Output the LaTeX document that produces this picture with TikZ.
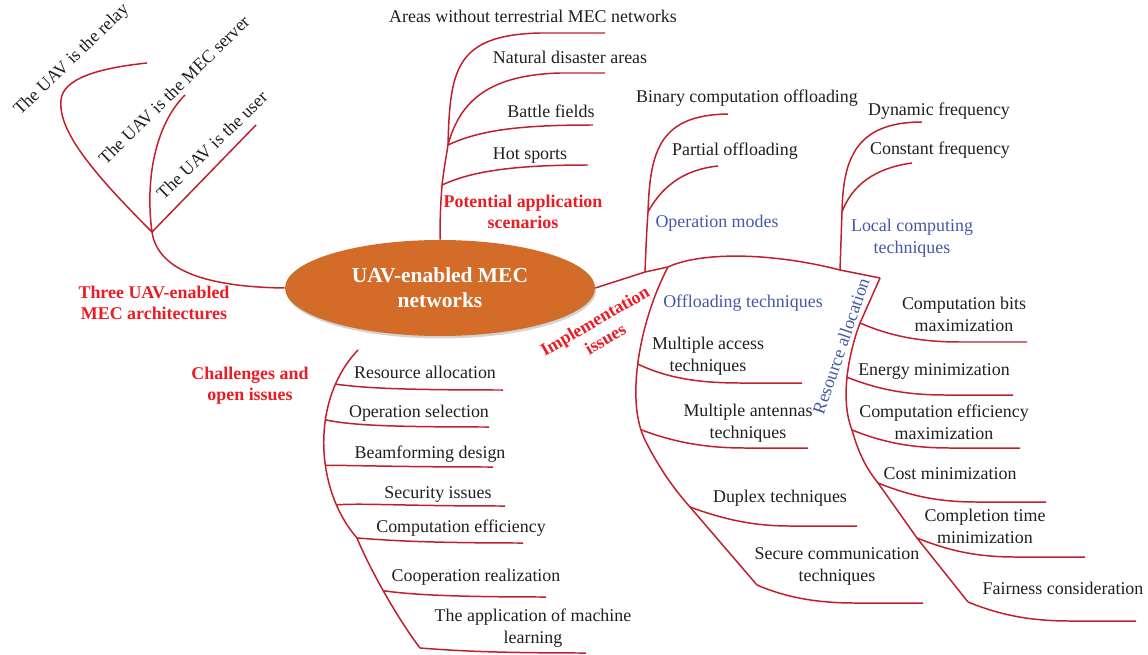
\documentclass[tikz,border=0pt]{standalone}
\usepackage{fontspec}
\setmainfont{Liberation Serif}
\usetikzlibrary{shapes.geometric,shadows}
\definecolor{linered}{RGB}{192,32,45}
\definecolor{topicred}{RGB}{236,28,36}
\definecolor{subblue}{RGB}{68,88,170}
\definecolor{centre}{RGB}{210,108,40}
\tikzset{branch/.style={draw=linered, line width=0.85pt}}
\tikzset{leaf/.style={inner sep=0pt, align=center, text=black!88, font=\fontsize{10.2}{12.5}\selectfont}}
\tikzset{topic/.style={leaf, text=topicred, font=\fontsize{10.2}{12}\selectfont\bfseries}}
\tikzset{sub/.style={leaf, text=subblue}}

\begin{document}
\begin{tikzpicture}[x=0.02cm, y=-0.02cm]
      \useasboundingbox (0,0) rectangle (1148,655);
      \node[ellipse, fill=centre, minimum width=6.2cm, minimum height=1.92cm, inner sep=0pt,
            drop shadow={shadow xshift=0.6pt, shadow yshift=-1.4pt, opacity=0.35, fill=black!50},
            text=white, align=center, font=\fontsize{12.2}{14.2}\selectfont\bfseries] (net) at (440,288) {UAV-enabled MEC\\networks};

      \coordinate (arch) at (152,232);
      \coordinate (relay) at (147,63);
      \coordinate (server) at (185,95);
      \coordinate (user) at (256,125);
      \draw[branch] (net.west) .. controls (210,287) and (158,272) .. (arch);
      \draw[branch] (arch) .. controls (90,170) and (58,130) .. (61,100) .. controls (63,78) and (100,68) .. (relay);
      \draw[branch] (arch) .. controls (145,180) and (155,125) .. (server);
      \draw[branch] (arch) -- (user);
      \node[leaf, rotate=44] (trelay) at (72,60) {The UAV is the relay};
      \node[leaf, rotate=44.5] (tserver) at (174,90) {The UAV is the MEC server};
      \node[leaf, rotate=44] (tuser) at (212,145) {The UAV is the user};
      \node[topic] (tarch) at (154,303) {Three UAV-enabled\\MEC architectures};

      \coordinate (hot) at (442,185);
      \coordinate (app) at (448,145);
      \coordinate (areas) at (605,33);
      \coordinate (disaster) at (605,73);
      \coordinate (battle) at (593,125);
      \coordinate (sports) at (588,165);
      \draw[branch] (net.north) .. controls (440,212) and (441,200) .. (hot) .. controls (444,168) and (446,158) .. (app);
      \draw[branch] (app) .. controls (450,70) and (455,35) .. (540,33) -- (areas);
      \draw[branch] (app) .. controls (460,100) and (490,75) .. (560,73) -- (disaster);
      \draw[branch] (app) .. controls (480,130) and (520,125) .. (battle);
      \draw[branch] (hot) .. controls (470,172) and (510,165) .. (sports);
      \node[leaf] (tareas) at (533,16) {Areas without terrestrial MEC networks};
      \node[leaf] (tdisaster) at (570,57) {Natural disaster areas};
      \node[leaf] (tbattle) at (551,111) {Battle fields};
      \node[leaf] (tsports) at (530,156) {Hot sports};
      \node[topic] (tapp) at (523,212) {Potential application\\scenarios};

      \coordinate (ops) at (645,272);
      \coordinate (off) at (668,267);
      \coordinate (local) at (840,270);
      \coordinate (res) at (880,278);
      \draw[branch] (net.east) -- (ops) -- (off) .. controls (700,252) and (770,252) .. (local) -- (res);
      \node[topic, rotate=30] (timpl) at (600,330) {Implementation\\issues};

      \coordinate (opsmid) at (648,212);
      \coordinate (binary) at (728,114);
      \coordinate (partial) at (718,166);
      \draw[branch] (ops) .. controls (646,245) and (647,225) .. (opsmid) .. controls (650,150) and (660,115) .. (binary);
      \draw[branch] (opsmid) .. controls (660,190) and (680,170) .. (partial);
      \node[leaf] (tbinary) at (747,98) {Binary computation offloading};
      \node[leaf] (tpartial) at (735,151) {Partial offloading};
      \node[sub] (tops) at (717,223) {Operation modes};

      \coordinate (localmid) at (842,212);
      \coordinate (dynamic) at (922,122);
      \coordinate (constant) at (912,163);
      \draw[branch] (local) -- (localmid) .. controls (843,160) and (855,122) .. (dynamic);
      \draw[branch] (localmid) .. controls (852,185) and (875,168) .. (constant);
      \node[leaf] (tdynamic) at (939,111) {Dynamic frequency};
      \node[leaf] (tconstant) at (940,150) {Constant frequency};
      \node[sub] (tlocal) at (912,238) {Local computing\\techniques};

      \coordinate (offmid) at (645,440);
      \coordinate (duplex) at (690,507);
      \coordinate (secure) at (757,585);
      \coordinate (maccend) at (802,383);
      \coordinate (mantend) at (808,448);
      \coordinate (duplexend) at (857,526);
      \coordinate (secureend) at (923,603);
      \draw[branch] (off) .. controls (640,320) and (625,400) .. coordinate[pos=0.53] (macc) coordinate[pos=0.92] (mant) (offmid)
            .. controls (660,470) and (675,490) .. (duplex) -- (secure);
      \draw[branch] (macc) .. controls (665,377) and (695,383) .. (740,383) -- (maccend);
      \draw[branch] (mant) .. controls (673,442) and (705,448) .. (745,448) -- (mantend);
      \draw[branch] (duplex) .. controls (720,518) and (750,526) .. (790,526) -- (duplexend);
      \draw[branch] (secure) .. controls (785,597) and (815,603) .. (855,603) -- (secureend);
      \node[sub] (toff) at (743,303) {Offloading techniques};
      \node[leaf] (tmacc) at (708,356) {Multiple access\\techniques};
      \node[leaf] (tmant) at (748,423) {Multiple antennas\\techniques};
      \node[leaf] (tduplex) at (780,498) {Duplex techniques};
      \node[leaf] (tsecure) at (837,566) {Secure communication\\techniques};

      \coordinate (rbits) at (860,323);
      \coordinate (reff) at (852,430);
      \coordinate (rcost) at (878,483);
      \coordinate (rtime) at (917,538);
      \coordinate (rfair) at (968,602);
      \coordinate (rbitsend) at (1027,342);
      \coordinate (renergyend) at (1013,395);
      \coordinate (reffend) at (1020,448);
      \coordinate (rcostend) at (1046,502);
      \coordinate (rtimeend) at (1085,557);
      \coordinate (rfairend) at (1136,621);
      \draw[branch] (res) -- (rbits) .. controls (848,355) and (840,400) .. coordinate[pos=0.5] (renergy) (reff)
            .. controls (860,458) and (868,470) .. (rcost) -- (rtime) -- (rfair);
      \draw[branch] (rbits) .. controls (890,336) and (920,342) .. (960,342) -- (rbitsend);
      \draw[branch] (renergy) .. controls (877,389) and (905,395) .. (945,395) -- (renergyend);
      \draw[branch] (reff) .. controls (882,442) and (910,448) .. (950,448) -- (reffend);
      \draw[branch] (rcost) .. controls (908,495) and (936,502) .. (976,502) -- (rcostend);
      \draw[branch] (rtime) .. controls (947,550) and (975,557) .. (1015,557) -- (rtimeend);
      \draw[branch] (rfair) .. controls (1000,615) and (1030,621) .. (1070,621) -- (rfairend);
      \node[sub, rotate=71] (tres) at (841,346) {Resource allocation};
      \node[leaf] (tbits) at (964,314) {Computation bits\\maximization};
      \node[leaf] (tenergy) at (934,371) {Energy minimization};
      \node[leaf] (teff) at (944,422) {Computation efficiency\\maximization};
      \node[leaf] (tcost) at (950,474) {Cost minimization};
      \node[leaf] (ttime) at (985,526) {Completion time\\minimization};
      \node[leaf] (tfair) at (1063,588) {Fairness consideration};

      \coordinate (chtop) at (358,350);
      \coordinate (chmid) at (357,538);
      \coordinate (chlearn) at (420,648);
      \coordinate (chresend) at (503,390);
      \coordinate (chopend) at (489,427);
      \coordinate (chbeamend) at (493,467);
      \coordinate (chsecend) at (505,506);
      \coordinate (chmidend) at (523,543);
      \coordinate (chcoopend) at (546,597);
      \coordinate (chlearnend) at (586,653);
      \draw[branch] (chtop) .. controls (310,400) and (315,490) .. coordinate[pos=0.2] (chres) coordinate[pos=0.38] (chop)
            coordinate[pos=0.6] (chbeam) coordinate[pos=0.8] (chsec) (chmid)
            .. controls (368,565) and (395,615) .. coordinate[pos=0.5] (chcoop) (chlearn);
      \draw[branch] (chres) .. controls (365,388) and (400,390) .. (chresend);
      \draw[branch] (chop) .. controls (350,425) and (385,427) .. (chopend);
      \draw[branch] (chbeam) .. controls (352,465) and (390,467) .. (chbeamend);
      \draw[branch] (chsec) .. controls (366,503) and (400,506) .. (chsecend);
      \draw[branch] (chmid) .. controls (384,540) and (420,543) .. (chmidend);
      \draw[branch] (chcoop) .. controls (407,594) and (443,597) .. (chcoopend);
      \draw[branch] (chlearn) .. controls (447,650) and (483,653) .. (chlearnend);
      \node[leaf] (tchres) at (425,372) {Resource allocation};
      \node[leaf] (tchop) at (419,413) {Operation selection};
      \node[leaf] (tchbeam) at (430,454) {Beamforming design};
      \node[leaf] (tchsec) at (438,494) {Security issues};
      \node[leaf] (tchmid) at (461,528) {Computation efficiency};
      \node[leaf] (tchcoop) at (476,577) {Cooperation realization};
      \node[leaf] (tchlearn) at (533,628) {The application of machine\\learning};
      \node[topic] (tch) at (250,386) {Challenges and\\open issues};
    \end{tikzpicture}
\end{document}
